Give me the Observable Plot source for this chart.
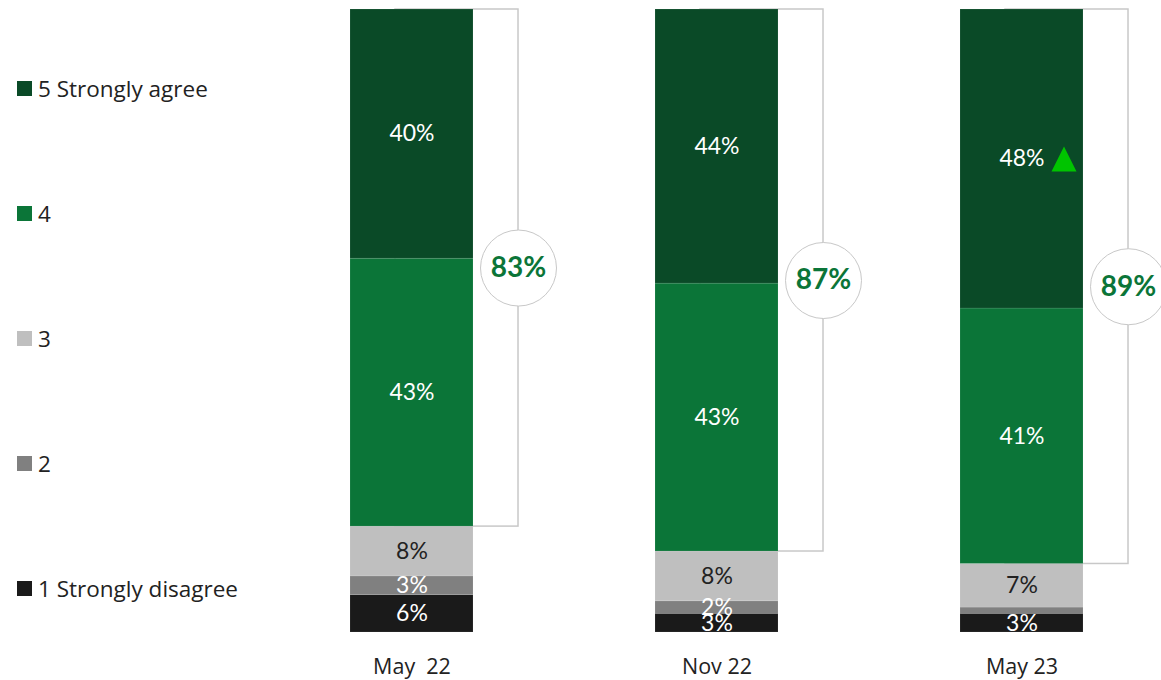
<!DOCTYPE html>
<html>
<head>
<meta charset="utf-8">
<script src="https://cdn.jsdelivr.net/npm/d3@7"></script>
<script src="https://cdn.jsdelivr.net/npm/@observablehq/plot@0.6"></script>
<style>
  html, body { margin: 0; padding: 0; background: #fff; }
  body { width: 1161px; height: 680px; position: relative; overflow: hidden; font-family: Lato, "Noto Sans", sans-serif; }
  #legend { position: absolute; left: 17px; top: 76px; display: flex; flex-direction: column; gap: 101px; }
  .item { display: flex; align-items: center; height: 24px; font-size: 22.5px; color: #222; white-space: nowrap; font-family: "Open Sans", "Noto Sans", sans-serif; }
  .sw { width: 15px; height: 15px; margin-right: 6px; flex: none; }
  #chart svg text { white-space: pre; }
</style>
</head>
<body>
<div id="legend"></div>
<div id="chart"></div>
<script>
// ---- data ----
const periods = ["May  22", "Nov 22", "May 23"];
const levels = ["5 Strongly agree", "4", "3", "2", "1 Strongly disagree"];
const colors = ["#0a4a27", "#0b7538", "#bfbfbf", "#808080", "#1a1a1a"];
const labelColors = ["#ffffff", "#ffffff", "#222222", "#ffffff", "#ffffff"];
const agree5 = [40, 44, 48];
const agree4 = [43, 43, 41];
const neutral3 = [8, 8, 7];
const disagree2 = [3, 2, 1];
const disagree1 = [6, 3, 3];
const showLabel2 = [true, true, false];
const totals = [83, 87, 89];
const totalLabels = ["83%", "87%", "89%"];
const upArrow5 = [false, false, true];

// ---- build table (stack bottom = level 1) ----
const series = [agree5, agree4, neutral3, disagree2, disagree1];
const rows = [];
periods.forEach((p, i) => {
  let acc = 0;
  for (let k = levels.length - 1; k >= 0; k--) {
    const v = series[k][i];
    const show = k === 3 ? showLabel2[i] : true;
    rows.push({period: p, level: levels[k], k, value: v, y1: acc, y2: acc + v,
               label: show ? v + "%" : "", up: k === 0 && upArrow5[i]});
    acc += v;
  }
});
const brackets = periods.map((p, i) => ({period: p, y1: 100 - totals[i], y2: 100, mid: 100 - totals[i] / 2, label: totalLabels[i]}));

// legend
const legend = document.getElementById("legend");
levels.forEach((l, k) => {
  const d = document.createElement("div");
  d.className = "item";
  d.innerHTML = `<span class="sw" style="background:${colors[k]}"></span><span>${l}</span>`;
  legend.appendChild(d);
});

const triangle = {
  draw(context, size) {
    const r = Math.sqrt(size / Math.PI);
    context.moveTo(0, -r);
    context.lineTo(r, r);
    context.lineTo(-r, r);
    context.closePath();
  }
};

const chart = Plot.plot({
  width: 1161,
  height: 680,
  marginTop: 9,
  marginBottom: 48,
  marginLeft: 349,
  marginRight: 78,
  style: {fontFamily: "Lato, 'Noto Sans', sans-serif", background: "transparent", overflow: "visible"},
  x: {domain: periods, paddingInner: 0.5974, paddingOuter: 0, label: null},
  y: {domain: [0, 100], axis: null},
  color: {domain: levels, range: colors},
  marks: [
    Plot.barY(brackets, {x: "period", y1: "y1", y2: "y2", dx: 45, fill: "none", stroke: "#c8c8c8", strokeWidth: 1.5}),
    Plot.barY(rows, {x: "period", y1: "y1", y2: "y2", fill: "level", stroke: "#ffffff", strokeOpacity: 0.15, strokeWidth: 0.7}),
    Plot.text(rows, {x: "period", y: d => (d.y1 + d.y2) / 2, text: "label", fill: d => labelColors[d.k], fontSize: 23, clip: "frame"}),
    Plot.dot(rows.filter(d => d.up), {x: "period", y: d => (d.y1 + d.y2) / 2, dx: 42, r: 12.5, symbol: triangle, fill: "#00c400"}),
    Plot.dot(brackets, {x: "period", y: "mid", dx: 106.5, r: 38, fill: "#ffffff", stroke: "#c8c8c8", strokeWidth: 1}),
    Plot.text(brackets, {x: "period", y: "mid", dx: 106.5, text: "label", fill: "#0b7538", fontSize: 28, fontWeight: 700}),
    Plot.axisX({tickSize: 0, tickPadding: 26, fontSize: 21.5, color: "#222", fontFamily: "'Open Sans', 'Noto Sans', sans-serif"})
  ]
});
document.getElementById("chart").appendChild(chart);
</script>
</body>
</html>
